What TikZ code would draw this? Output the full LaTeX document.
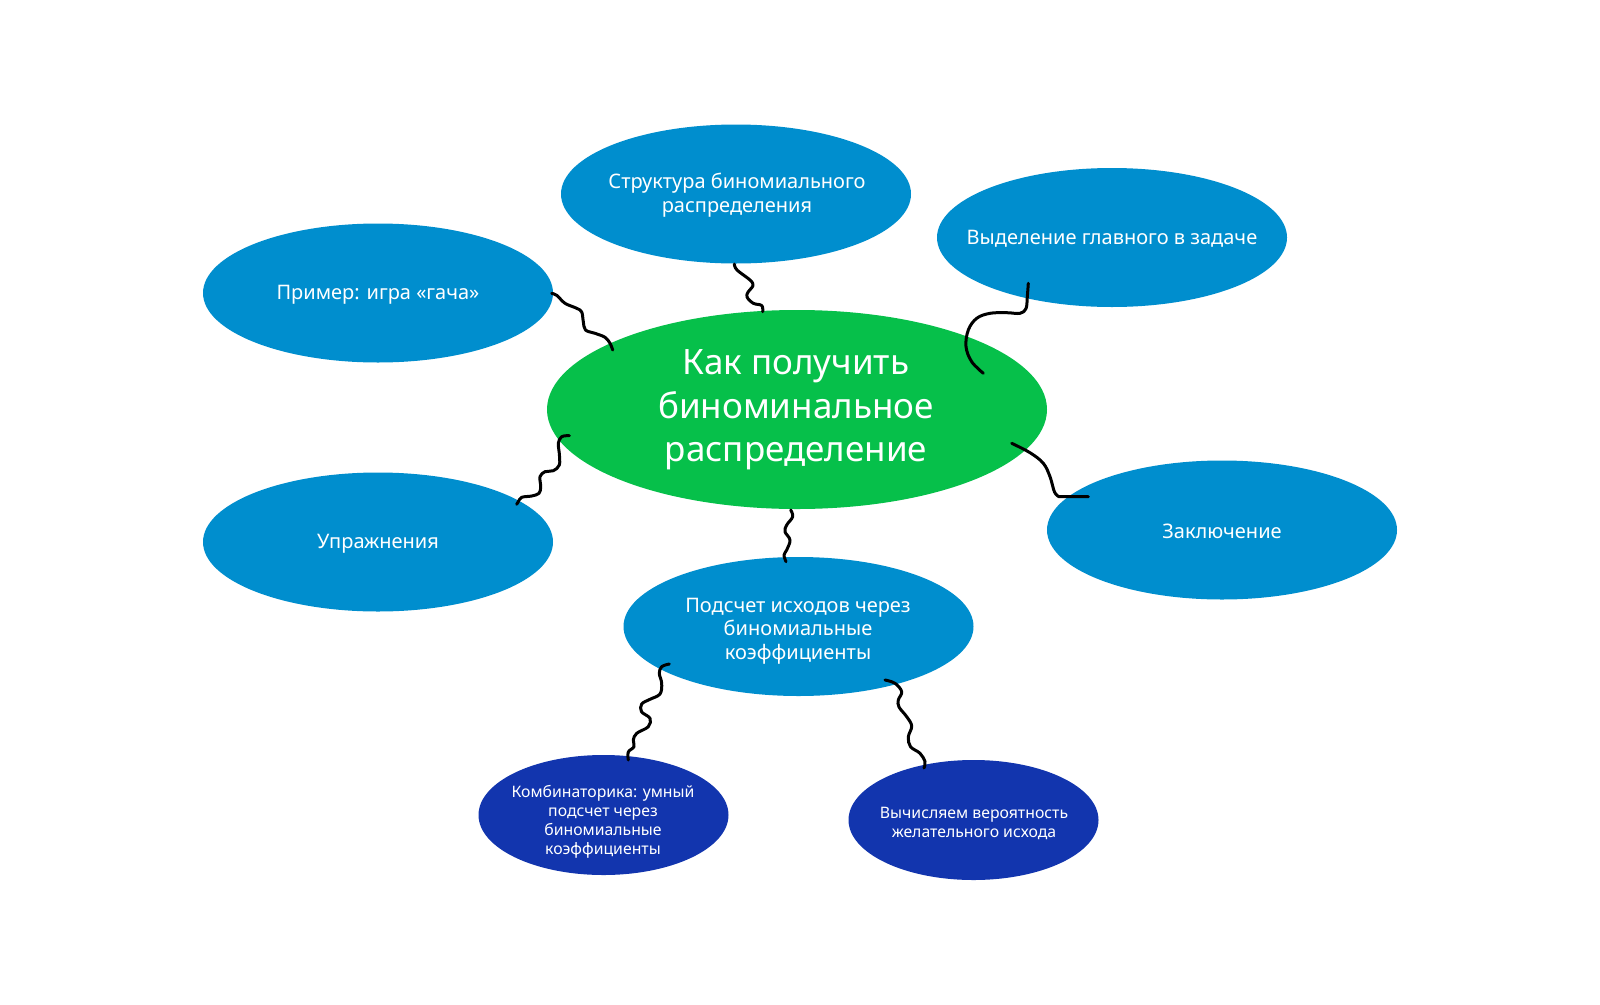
\documentclass[tikz,border=0pt]{standalone}
\usepackage{fontspec}
\setmainfont{Noto Sans}
\usetikzlibrary{shapes.geometric}
\definecolor{bblue}{RGB}{0,142,206}
\definecolor{cgreen}{RGB}{6,192,74}
\definecolor{dblue}{RGB}{18,53,174}
\begin{document}
\begin{tikzpicture}[x=1pt,y=-1pt,
  blob/.style={ellipse, draw=none, inner sep=0pt, fill=bblue, minimum width=350pt, minimum height=139pt},
  smallblob/.style={blob, fill=dblue, minimum width=250pt, minimum height=120pt},
  hub/.style={blob, fill=cgreen, minimum width=500pt, minimum height=199pt},
  lbl/.style={text=white, align=center, inner sep=0pt, font=\fontsize{20}{23.5}\selectfont},
  hublbl/.style={lbl, font=\fontsize{35}{43.5}\selectfont},
  smalllbl/.style={lbl, font=\fontsize{15.8}{19}\selectfont},
  wire/.style={line width=3pt, line cap=round, line join=round, draw=black}]
\useasboundingbox (0,0) rectangle (1600,1004);
\fill[white] (0,0) rectangle (1600,1004);

% ellipses
\node[hub] (hub) at (797,409.5) {};
\node[blob] (struct) at (736,194) {};
\node[blob] (select) at (1112,237.5) {};
\node[blob] (example) at (378,293) {};
\node[blob] (exerc) at (378,542) {};
\node[blob] (concl) at (1222,530) {};
\node[blob] (count) at (798.5,626.5) {};
\node[smallblob] (comb) at (603.5,815) {};
\node[smallblob] (calc) at (973.5,820) {};

% texts
\node[hublbl] (hub-t) at (796,410) {Как получить\\биноминальное\\распределение};
\node[lbl] (struct-t) at (737,195) {Структура биномиального\\распределения};
\node[lbl] (select-t) at (1112,238.5) {Выделение главного в задаче};
\node[lbl] (example-t) at (378,294.5) {Пример: игра «гача»};
\node[lbl] (exerc-t) at (378,544) {Упражнения};
\node[lbl] (concl-t) at (1222,531) {Заключение};
\node[lbl] (count-t) at (798,631) {Подсчет исходов через\\биномиальные\\коэффициенты};
\node[smalllbl] (comb-t) at (603,822) {Комбинаторика: умный\\подсчет через\\биномиальные\\коэффициенты};
\node[smalllbl] (calc-t) at (974,823) {Вычисляем вероятность\\желательного исхода};

% connector end points
\coordinate (w1a) at (734.3,264);   \coordinate (w1b) at (762.7,311.7);
\coordinate (w2a) at (551.7,293.3); \coordinate (w2b) at (612.7,350);
\coordinate (w3a) at (1028.3,283.3);\coordinate (w3b) at (983.3,373.3);
\coordinate (w4a) at (1011.7,443.3);\coordinate (w4b) at (1088.3,496.7);
\coordinate (w5a) at (569.3,435.7); \coordinate (w5b) at (516.7,504.3);
\coordinate (w6a) at (790.7,510);   \coordinate (w6b) at (786,561.7);
\coordinate (w7a) at (669.3,664);   \coordinate (w7b) at (628.3,760);
\coordinate (w8a) at (885,680);     \coordinate (w8b) at (924,768);

% connectors
\draw[wire] plot[smooth, tension=0.6] coordinates {(w1a) (737,270) (750,280) (753,285.5) (748.3,291.7) (747,297) (753.3,303.3) (761.7,305.5) (w1b)};
\draw[wire] plot[smooth, tension=0.6] coordinates {(w2a) (557,295.5) (565,303.3) (576.7,308.3) (581.7,312) (583.3,321.7) (585.5,330) (595,333.3) (605,337.3) (610,343.3) (w2b)};
\draw[wire] plot[smooth, tension=0.6] coordinates {(w3a) (1027.3,296.7) (1026,308.5) (1020,313.3) (1006.7,312.7) (990,313.3) (976.7,318.3) (968.3,330) (966,346.7) (971.7,361.7) (w3b)};
\draw[wire] plot[smooth, tension=0.6] coordinates {(w4a) (1030,452.7) (1043.3,463.3) (1050,476.7) (1054.5,492) (1059,496.7)} -- (w4b);
\draw[wire] plot[smooth, tension=0.6] coordinates {(w5a) (561.7,436.7) (558.3,443.3) (559.3,453.3) (559.3,465) (553.3,470.7) (545,471.7) (540,476.7) (540.7,486.7) (539,493.3) (531.7,496) (521.7,497.3) (518.3,501.7) (w5b)};
\draw[wire] plot[smooth, tension=0.6] coordinates {(w6a) (792.7,516.7) (786.7,525) (785,531.7) (790,540) (786.7,550) (784,555) (w6b)};
\draw[wire] plot[smooth, tension=0.6] coordinates {(w7a) (661.7,666.7) (659.3,673.3) (661.7,683.3) (660,694) (650,699.3) (641.7,704) (641.5,711.7) (650,718.3) (648.3,726.7) (636.7,733.3) (633.3,740) (634,746.7) (628.3,752) (w7b)};
\draw[wire] plot[smooth, tension=0.6] coordinates {(w8a) (895,683.3) (901.7,691.7) (898.3,700) (899,707) (906.7,716.7) (911.7,726) (908.3,737) (910.5,746.7) (920,753.3) (925,761.7) (w8b)};
\end{tikzpicture}
\end{document}
